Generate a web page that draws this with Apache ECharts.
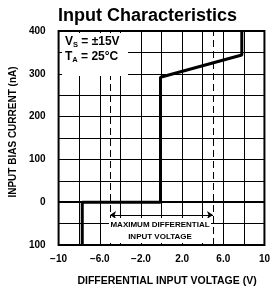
<!DOCTYPE html>
<html>
<head>
<meta charset="utf-8">
<script src="https://cdn.jsdelivr.net/npm/echarts@6/dist/echarts.min.js"></script>
<style>
html, body { margin: 0; padding: 0; background: #fff; }
#chart { width: 273px; height: 295px; }
</style>
</head>
<body>
<div id="chart"></div>
<script>
// input bias current (nA) against differential input voltage (V)
const curveV = [-7.7, -7.7, -0.1, -0.1, 7.8, 7.8]
const curveI = [-100, 0, 0, 292, 344, 400]
// maximum differential input voltage
const limitV = [-5, 5]
const xTicks = [-10, -6, -2, 2, 6, 10]
const xTickLabels = ['\u221210', '\u22126.0', '\u22122.0', '2.0', '6.0', '10']
const yTicks = [400, 300, 200, 100, 0, -100]
const yTickLabels = ['400', '300', '200', '100', '0', '100']

const font = 'Liberation Sans, Arial, sans-serif'
const chart = echarts.init(document.getElementById('chart'))

chart.setOption({
  animation: false,
  title: {
    text: 'Input Characteristics',
    left: 53,
    top: 2,
    textStyle: { fontFamily: font, fontSize: 18, fontWeight: 'bold', color: '#000' }
  },
  grid: {
    left: 55, right: 7, top: 31, bottom: 50,
    show: true, borderColor: '#000', borderWidth: 2
  },
  xAxis: {
    type: 'value',
    min: -10, max: 10, interval: 2,
    name: 'DIFFERENTIAL INPUT VOLTAGE (V)',
    nameLocation: 'middle',
    nameGap: 31,
    nameTextStyle: { fontFamily: font, fontSize: 10.5, fontWeight: 'bold', color: '#000', padding: [0, 0, 0, 11] },
    axisLine: { show: false },
    axisTick: { show: false },
    axisLabel: {
      margin: 9,
      fontFamily: font, fontSize: 10, fontWeight: 'bold', color: '#000',
      formatter: function (v) {
        const i = xTicks.indexOf(v)
        return i < 0 ? '' : xTickLabels[i]
      }
    },
    splitLine: { lineStyle: { color: '#000', width: 1 } }
  },
  yAxis: {
    type: 'value',
    min: -100, max: 400, interval: 50,
    name: 'INPUT BIAS CURRENT (nA)',
    nameLocation: 'middle',
    nameGap: 37,
    nameTextStyle: { fontFamily: font, fontSize: 10, fontWeight: 'bold', color: '#000', padding: [0, 0, 0, 12] },
    axisLine: { show: false },
    axisTick: { show: false },
    axisLabel: {
      margin: 13,
      fontFamily: font, fontSize: 10, fontWeight: 'bold', color: '#000',
      formatter: function (v) {
        const i = yTicks.indexOf(v)
        return i < 0 ? '' : yTickLabels[i]
      }
    },
    splitLine: { lineStyle: { color: '#000', width: 1 } }
  },
  series: [
    {
      type: 'line',
      data: curveV.map((v, i) => [v, curveI[i]]),
      symbol: 'none',
      lineStyle: { color: '#000', width: 3 },
      z: 5,
      markLine: {
        silent: true,
        symbol: 'none',
        label: { show: false },
        data: [
          { yAxis: 0, lineStyle: { color: '#000', width: 2, type: 'solid' } }
        ].concat(limitV.map(v => ({ xAxis: v, lineStyle: { color: '#000', width: 1, type: [7, 4] } }))).concat([
          [
            { coord: [limitV[0], -30], symbol: 'arrow', symbolSize: 6, lineStyle: { color: '#000', width: 1, type: 'solid' } },
            { coord: [limitV[1], -30], symbol: 'arrow', symbolSize: 6 }
          ]
        ])
      }
    }
  ],
  graphic: [
    { type: 'rect', z: 100, shape: { x: 62, y: 33, width: 66, height: 43 }, style: { fill: '#fff' } },
    {
      type: 'text', z: 101, left: 65, top: 36,
      style: {
        text: '{m|V}{s|S}{m| = \u00b115V}',
        rich: {
          m: { fontFamily: font, fontSize: 12, fontWeight: 'bold', fill: '#000' },
          s: { fontFamily: font, fontSize: 7.5, fontWeight: 'bold', fill: '#000', verticalAlign: 'bottom', padding: [5, 0, 0, 0] }
        }
      }
    },
    {
      type: 'text', z: 101, left: 65, top: 51,
      style: {
        text: '{m|T}{s|A}{m| = 25\u00b0C}',
        rich: {
          m: { fontFamily: font, fontSize: 12, fontWeight: 'bold', fill: '#000' },
          s: { fontFamily: font, fontSize: 7.5, fontWeight: 'bold', fill: '#000', verticalAlign: 'bottom', padding: [5, 0, 0, 0] }
        }
      }
    },
    { type: 'rect', z: 100, shape: { x: 109, y: 218, width: 102, height: 25 }, style: { fill: '#fff' } },
    {
      type: 'text', z: 101, x: 160, y: 219,
      style: {
        text: 'MAXIMUM DIFFERENTIAL\nINPUT VOLTAGE',
        align: 'center',
        lineHeight: 12,
        font: 'bold 8px ' + font,
        fill: '#000'
      }
    }
  ]
})
</script>
</body>
</html>
